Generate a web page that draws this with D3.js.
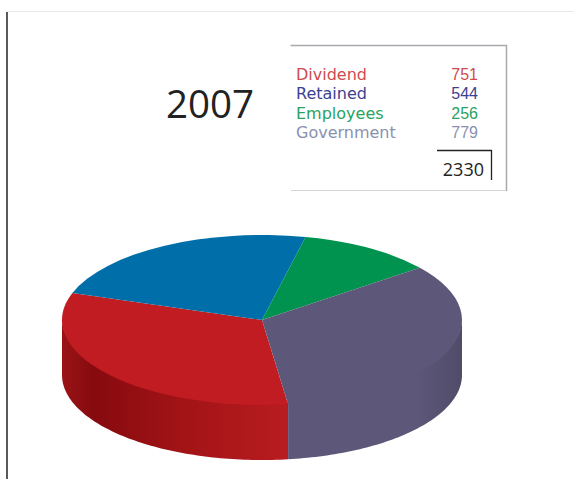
<!DOCTYPE html>
<html>
<head>
<meta charset="utf-8">
<script src="https://cdn.jsdelivr.net/npm/d3@7"></script>
<style>
  html, body { margin: 0; padding: 0; background: #fff; }
  svg { display: block; }
  text { font-family: "Open Sans", "Noto Sans", sans-serif; }
</style>
</head>
<body>
<svg id="chart" width="574" height="479"></svg>
<script>
const year = "2007";
const categories = ["Dividend", "Retained", "Employees", "Government"];
const values = [751, 544, 256, 779];
const total = 2330;
const labelColors = ["#cf4a4e", "#3b4190", "#2aa261", "#8a91b0"];
const faceColors = ["#c11c22", "#006ea8", "#00924f", "#5d5779"];
const wallStops = [
  [["0%", "#9a1416"], ["14%", "#860a0e"], ["55%", "#a31417"], ["100%", "#b81c20"]],
  null,
  null,
  [["0%", "#5d5779"], ["74%", "#5d5779"], ["100%", "#504c68"]]
];

const svg = d3.select("#chart");
const cx = 262, cy = 320, rx = 200, ry = 85, depth = 55;

// Page frame: dark rule on the left, faint rule along the top
svg.append("line").attr("x1", 7).attr("x2", 574).attr("y1", 11.5).attr("y2", 11.5)
  .attr("stroke", "#e9e9e9").attr("stroke-width", 1);
svg.append("line").attr("x1", 7).attr("x2", 7).attr("y1", 12).attr("y2", 479)
  .attr("stroke", "#5a5a5a").attr("stroke-width", 2);

svg.append("text").attr("x", 166).attr("y", 118)
  .attr("font-size", 38.5).attr("fill", "#222").text(year);

// Legend panel
const panel = svg.append("g");
panel.append("path").attr("d", "M290.5,45.5H506.5V191").attr("fill", "none")
  .attr("stroke", "#a9a9ae").attr("stroke-width", 1.5);
panel.append("line").attr("x1", 291).attr("x2", 506).attr("y1", 190.5).attr("y2", 190.5)
  .attr("stroke", "#d4d4d8");

const rowY = d3.scalePoint().domain(categories).range([80, 138]);
const rows = panel.selectAll("g.row").data(categories).join("g").attr("class", "row")
  .attr("transform", d => `translate(0,${rowY(d)})`);
rows.append("text").attr("x", 296).attr("fill", (d, i) => labelColors[i])
  .style("font-family", '"DejaVu Sans", sans-serif').attr("font-size", 16).text(d => d);
rows.append("text").attr("x", 478).attr("text-anchor", "end")
  .style("font-family", '"Liberation Sans", sans-serif').attr("font-size", 16)
  .attr("fill", (d, i) => labelColors[i]).text((d, i) => values[i]);

panel.append("path").attr("d", "M437,150.5H491.5V180").attr("fill", "none")
  .attr("stroke", "#222").attr("stroke-width", 1.3);
panel.append("text").attr("x", 484).attr("y", 176).attr("text-anchor", "end")
  .attr("font-size", 18).attr("fill", "#222").text(total);

// Slices, measured clockwise from north on the unsquashed disc
const startAngle = 172.5 * Math.PI / 180;
const pie = d3.pie().sort(null).startAngle(startAngle).endAngle(startAngle + 2 * Math.PI);
const slices = pie(values).map((s, i) => ({ ...s, index: i }));

const defs = svg.append("defs");
wallStops.forEach((stops, i) => {
  if (!stops) return;
  const grad = defs.append("linearGradient").attr("id", "wall" + i);
  stops.forEach(([o, c]) => grad.append("stop").attr("offset", o).attr("stop-color", c));
});

// Outer wall: only the part of each slice's rim that faces the viewer.
// The upper edge runs a little under the top face so no seam shows.
const px = a => cx + rx * Math.sin(a);
const py = a => cy - ry * Math.cos(a);
const wall = d3.line();
function wallPath(a0, a1) {
  const frontStart = Math.PI / 2, frontEnd = 3 * Math.PI / 2;
  const from = Math.max(a0, frontStart), to = Math.min(a1, frontEnd);
  if (from >= to) return null;
  const steps = d3.range(from, to, 0.02).concat([to]);
  const upper = steps.map(a => [px(a), py(a) - 2]);
  const lower = steps.slice().reverse().map(a => [px(a), py(a) + depth]);
  return wall(upper.concat(lower)) + "Z";
}
slices.forEach(s => {
  const ranges = [[s.startAngle, s.endAngle], [s.startAngle - 2 * Math.PI, s.endAngle - 2 * Math.PI]];
  ranges.forEach(([a0, a1]) => {
    const d = wallPath(a0, a1);
    if (d) svg.append("path").attr("d", d)
      .attr("fill", wallStops[s.index] ? `url(#wall${s.index})` : faceColors[s.index]);
  });
});

// Top face: a regular arc generator flattened into an ellipse
const arc = d3.arc().innerRadius(0).outerRadius(rx);
svg.append("g").attr("transform", `translate(${cx},${cy}) scale(1,${ry / rx})`)
  .selectAll("path").data(slices).join("path")
  .attr("d", arc).attr("fill", d => faceColors[d.index]);
</script>
</body>
</html>
